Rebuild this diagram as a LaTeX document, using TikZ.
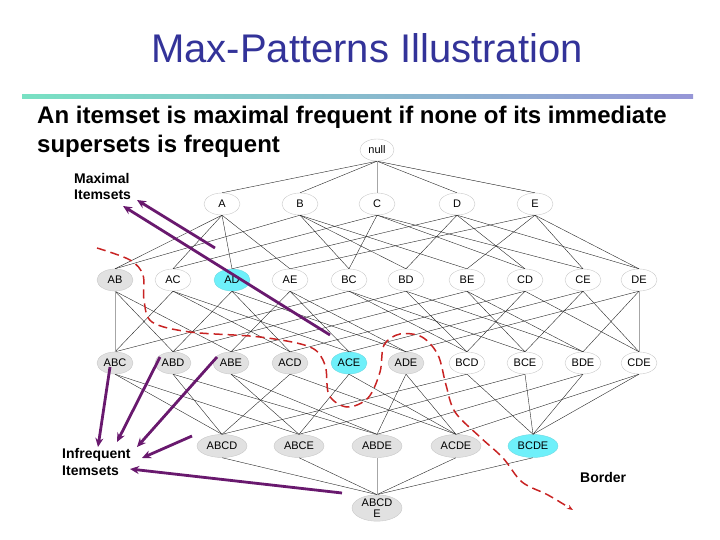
\documentclass[tikz,border=0pt]{standalone}
\usepackage{fontspec}
\setmainfont{Liberation Sans}
\usetikzlibrary{arrows.meta,shapes.geometric}
\definecolor{TitleBlue}{RGB}{51,51,153}
\definecolor{MaxCyan}{RGB}{110,240,250}
\definecolor{InfreqGray}{RGB}{225,225,225}
\definecolor{NodeLine}{RGB}{200,200,200}
\definecolor{ArrowPurple}{RGB}{105,25,110}
\definecolor{BorderRed}{RGB}{200,35,35}
\definecolor{RuleTeal}{RGB}{120,225,195}
\definecolor{RuleLilac}{RGB}{150,150,215}

\begin{document}
\begin{tikzpicture}[
    x=1pt, y=-1pt,
    itemset/.style={ellipse, draw=NodeLine, fill=white, inner sep=0pt, minimum width=36pt, minimum height=22pt, font=\fontsize{11}{11}\selectfont},
    wide/.style={minimum width=50pt, minimum height=23pt},
    freq/.style={},
    infreq/.style={fill=InfreqGray},
    maxfreq/.style={fill=MaxCyan, draw=MaxCyan!80!gray},
    edge/.style={black!85, line width=0.4pt},
    vedge/.style={black!35, line width=0.6pt},
    callout/.style={font=\fontsize{14}{16}\selectfont\bfseries, align=left, inner sep=0pt},
    arr/.style={-{Stealth[length=9pt, width=8pt]}, ArrowPurple, line width=2.8pt},
    border/.style={BorderRed, line width=1.5pt, dash pattern=on 9pt off 5pt, -{Stealth[length=6pt]}}
]
    \useasboundingbox (0,0) rectangle (720,540);

    % title and statement
    \node[anchor=base, font=\fontsize{40}{48}\selectfont, text=TitleBlue] (title) at (367,63) {Max-Patterns Illustration};
    \shade[left color=RuleTeal, right color=RuleLilac] (22,95) rectangle (693,99);
    \node[anchor=base west, inner sep=0pt, font=\fontsize{24}{29}\selectfont\bfseries] (line1) at (37,124) {An itemset is maximal frequent if none of its immediate};
    \node[anchor=base west, inner sep=0pt, font=\fontsize{24}{29}\selectfont\bfseries] (line2) at (37,153) {supersets is frequent};

    % lattice
    \node[itemset, minimum width=34pt] (null) at (377,150) {null};
    \foreach \n/\x in {A/222, B/300, C/377, D/457, E/535}
        \node[itemset] (\n) at (\x,204) {\n};
    \foreach \n/\x/\s in {AB/115/infreq, AC/173/freq, AD/232/maxfreq, AE/290/freq, BC/349/freq,
                          BD/406/freq, BE/467/freq, CD/525/freq, CE/583/freq, DE/639/freq}
        \node[itemset, \s] (\n) at (\x,280) {\n};
    \foreach \n/\x/\s in {ABC/115/infreq, ABD/173/infreq, ABE/231/infreq, ACD/290/infreq, ACE/349/maxfreq,
                          ADE/406/infreq, BCD/467/freq, BCE/525/freq, BDE/583/freq, CDE/639/freq}
        \node[itemset, \s] (\n) at (\x,363) {\n};
    \foreach \n/\x/\s in {ABCD/222/infreq, ABCE/299/infreq, ABDE/377/infreq, ACDE/456/infreq, BCDE/533/maxfreq}
        \node[itemset, wide, \s] (\n) at (\x,446) {\n};
    \node[itemset, wide, infreq, minimum height=26pt, align=center] (ABCDE) at (377,508) {ABCD\\E};

    \foreach \a/\b in {null/A, null/B, null/D, null/E,
                       A/AB, A/AC, A/AD, A/AE, B/AB, B/BC, B/BD, B/BE, C/AC, C/BC, C/CD, C/CE,
                       D/AD, D/BD, D/CD, D/DE, E/AE, E/BE, E/CE, E/DE,
                       AC/ABC, BC/ABC, AB/ABD, AD/ABD, BD/ABD, AB/ABE, AE/ABE, BE/ABE,
                       AC/ACD, AD/ACD, CD/ACD, AC/ACE, AE/ACE, CE/ACE, AD/ADE, AE/ADE, DE/ADE,
                       BC/BCD, BD/BCD, CD/BCD, BC/BCE, BE/BCE, CE/BCE, BD/BDE, BE/BDE, DE/BDE,
                       CD/CDE, CE/CDE,
                       ABC/ABCD, ABD/ABCD, ACD/ABCD, BCD/ABCD, ABC/ABCE, ABE/ABCE, ACE/ABCE, BCE/ABCE,
                       ABD/ABDE, ABE/ABDE, ADE/ABDE, BDE/ABDE, ACD/ACDE, ACE/ACDE, ADE/ACDE, CDE/ACDE,
                       BCD/BCDE, BCE/BCDE, BDE/BCDE, CDE/BCDE,
                       ABCD/ABCDE, ABCE/ABCDE, ACDE/ABCDE, BCDE/ABCDE}
        \draw[edge] (\a.south) -- (\b.north);
    \foreach \a/\b in {null/C, AB/ABC, DE/CDE, ABDE/ABCDE}
        \draw[vedge] (\a.south) -- (\b.north);

    % border between frequent and infrequent itemsets
    \draw[border] plot[smooth, tension=0.55] coordinates {
        (97,248) (130,260) (143,275) (144,300) (152,322) (190,332) (260,337) (310,347)
        (325,365) (329,395) (347,407) (368,398) (380,372) (384,345) (400,334) (422,337)
        (438,355) (446,385) (455,412) (480,437) (503,458) (522,482) (548,495) (573,510)};

    % callouts
    \node[callout, anchor=north west] (maxlabel) at (74,173) {Maximal\\Itemsets};
    \node[callout, anchor=north west, font=\fontsize{14}{17}\selectfont\bfseries] (inflabel) at (62,448) {Infrequent\\Itemsets};
    \node[callout, anchor=base west] (borderlabel) at (580,482) {Border};

    \coordinate (maxfromA) at (215,248);
    \coordinate (maxfromB) at (330,335);
    \coordinate (maxtipA) at (137,200);
    \coordinate (maxtipB) at (123,206);
    \draw[arr] (maxfromA) -- (maxtipA);
    \draw[arr] (maxfromB) -- (maxtipB);

    \coordinate (inffromA) at (110,367);
    \coordinate (inffromB) at (160,357);
    \coordinate (inffromC) at (217,357);
    \coordinate (inffromD) at (192,436);
    \coordinate (inffromE) at (342,493);
    \coordinate (inftipA) at (98,447);
    \coordinate (inftipB) at (117,442);
    \coordinate (inftipC) at (137,447);
    \coordinate (inftipD) at (142,458);
    \coordinate (inftipE) at (130,469);
    \foreach \k in {A,B,C,D,E}
        \draw[arr] (inffrom\k) -- (inftip\k);
\end{tikzpicture}
\end{document}
